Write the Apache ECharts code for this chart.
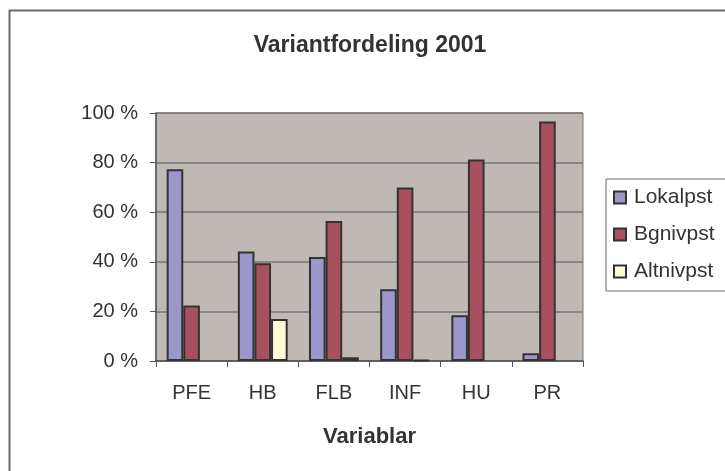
<!DOCTYPE html>
<html>
<head>
<meta charset="utf-8">
<script src="https://cdn.jsdelivr.net/npm/echarts@6/dist/echarts.min.js"></script>
<style>
  html, body { margin: 0; padding: 0; background: #fff; }
  #main { width: 725px; height: 471px; }
</style>
</head>
<body>
<div id="main"></div>
<script>
// data (percent)
var categories = ['PFE', 'HB', 'FLB', 'INF', 'HU', 'PR'];
var lokalpst = [77.3, 44.2, 41.9, 28.9, 18.4, 3.1];
var bgnivpst = [22.4, 39.4, 56.5, 70.0, 81.3, 96.6];
var altnivpst = [0, 16.9, 1.5, 0.5, 0, 0];
var yTicks = [0, 20, 40, 60, 80, 100];

var font = 'Liberation Sans, Arial, sans-serif';
var textColor = '#333';

var myChart = echarts.init(document.getElementById('main'));

function barSeries(name, data, color) {
    return {
        name: name,
        type: 'bar',
        // a zero value draws no bar at all (as in the original)
        data: data.map(function (v) { return v === 0 ? '-' : v; }),
        barGap: '0%',
        barCategoryGap: '30%',
        itemStyle: { color: color, borderColor: '#333', borderWidth: 2 },
        emphasis: { disabled: true }
    };
}

var options = {
    animation: false,
    backgroundColor: '#fff',
    textStyle: { fontFamily: font },
    title: {
        text: 'Variantfordeling 2001',
        left: 365,
        textAlign: 'center',
        top: 29,
        textStyle: { fontFamily: font, fontSize: 23, fontWeight: 'bold', color: textColor }
    },
    legend: {
        orient: 'vertical',
        left: 606,
        top: 179,
        padding: [8, 12, 9, 7],
        itemGap: 16,
        itemWidth: 12,
        itemHeight: 12,
        icon: 'rect',
        borderColor: '#666',
        borderWidth: 1,
        textStyle: { fontFamily: font, fontSize: 21, color: textColor, padding: [0, 0, 0, 3] },
        data: ['Lokalpst', 'Bgnivpst', 'Altnivpst']
    },
    grid: {
        left: 156,
        right: 142,
        top: 113,
        bottom: 110,
        show: true,
        backgroundColor: '#C0B8B5',
        borderColor: '#777',
        borderWidth: 1
    },
    graphic: [{
        type: 'rect',
        shape: { x: 9.5, y: 10.5, width: 800, height: 600 },
        style: { fill: 'none', stroke: '#6b6b6b', lineWidth: 2 },
        silent: true
    }],
    xAxis: {
        type: 'category',
        data: categories,
        name: 'Variablar',
        nameLocation: 'middle',
        nameGap: 65,
        nameTextStyle: { fontFamily: font, fontSize: 22, fontWeight: 'bold', color: textColor },
        axisLine: { lineStyle: { color: '#555', width: 1.5 } },
        axisTick: { show: true, length: 6, lineStyle: { color: '#555' } },
        axisLabel: { margin: 22, fontFamily: font, fontSize: 20, color: textColor }
    },
    yAxis: {
        type: 'value',
        min: yTicks[0],
        max: yTicks[yTicks.length - 1],
        interval: 20,
        axisLine: { show: true, lineStyle: { color: '#555', width: 1.5 } },
        axisTick: { show: true, length: 6, lineStyle: { color: '#555' } },
        axisLabel: { margin: 18, fontFamily: font, fontSize: 20, color: textColor, formatter: '{value} %' },
        splitLine: { lineStyle: { color: '#777', width: 1.5 } }
    },
    series: [
        barSeries('Lokalpst', lokalpst, '#9B97CB'),
        barSeries('Bgnivpst', bgnivpst, '#A8505F'),
        barSeries('Altnivpst', altnivpst, '#FFFCD5')
    ]
};

myChart.setOption(options, true);
</script>
</body>
</html>
